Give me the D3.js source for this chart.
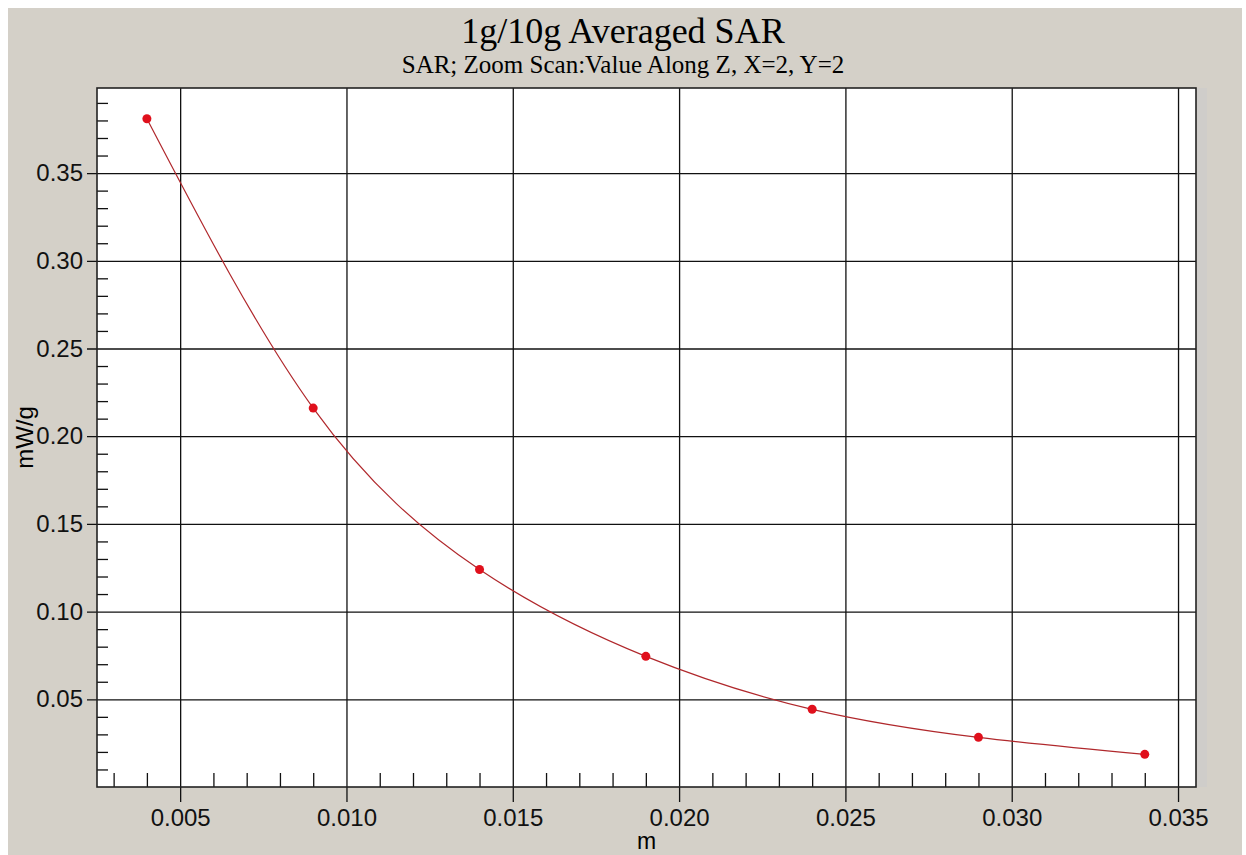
<!DOCTYPE html>
<html lang="en">
  <head>
    <meta charset="UTF-8" />
    <title>1g/10g Averaged SAR</title>
    <style>
      html, body { margin: 0; padding: 0; background: #ffffff; }
      svg { display: block; }
    </style>
  </head>
  <body>
    <div id="wrapper"></div>
    <script src="https://cdn.jsdelivr.net/npm/d3@7"></script>
    <script>
      // data
      const depth = [0.004, 0.009, 0.014, 0.019, 0.024, 0.029, 0.034];
      const sar = [0.381, 0.216, 0.124, 0.0745, 0.0443, 0.0283, 0.0186];
      const xMajor = [0.005, 0.010, 0.015, 0.020, 0.025, 0.030, 0.035];
      const yMajor = [0.05, 0.10, 0.15, 0.20, 0.25, 0.30, 0.35];
      const titleText = "1g/10g Averaged SAR";
      const subtitleText = "SAR; Zoom Scan:Value Along Z, X=2, Y=2";
      const xLabel = "m";
      const yLabel = "mW/g";

      const W = 1246, H = 855;
      const margin = {top: 88, right: 50, bottom: 68, left: 97};
      const width = W - margin.left - margin.right,
            height = H - margin.top - margin.bottom;

      const svg = d3.select("#wrapper").append("svg")
          .attr("width", W)
          .attr("height", H);

      // gray panel with a thin white edge
      svg.append("rect")
          .attr("x", 8).attr("y", 8)
          .attr("width", W - 12).attr("height", H - 8)
          .attr("fill", "#d4d0c8");

      // titles are centred on the whole panel
      svg.append("text")
          .attr("x", 623)
          .attr("y", 43)
          .attr("text-anchor", "middle")
          .style("font-family", "'Liberation Serif', 'Times New Roman', serif")
          .style("font-size", "36px")
          .text(titleText);

      svg.append("text")
          .attr("x", 623)
          .attr("y", 73)
          .attr("text-anchor", "middle")
          .style("font-family", "'Liberation Serif', 'Times New Roman', serif")
          .style("font-size", "25px")
          .text(subtitleText);

      const g = svg.append("g")
          .attr("transform", "translate(" + margin.left + "," + margin.top + ")");

      const x = d3.scaleLinear().domain([0.0025, 0.03554]).range([0, width]);
      const y = d3.scaleLinear().domain([0, 0.3985]).range([height, 0]);

      g.append("rect")
          .attr("width", width).attr("height", height)
          .attr("fill", "#ffffff");

      // minor ticks (every 0.001 on x, 0.01 on y)
      const xMinor = d3.range(3, 36).map(d => d / 1000).filter(d => d % 0.005 > 1e-9 && 0.005 - d % 0.005 > 1e-9);
      const yMinor = d3.range(1, 40).map(d => d / 100).filter(d => d % 0.05 > 1e-9 && 0.05 - d % 0.05 > 1e-9);

      g.append("g")
          .attr("transform", "translate(0," + height + ")")
          .call(d3.axisTop(x).tickValues(xMinor).tickSize(14).tickFormat(""))
          .call(a => a.select(".domain").remove())
          .selectAll("line").attr("stroke", "#111").attr("stroke-width", 1.3);

      g.append("g")
          .call(d3.axisRight(y).tickValues(yMinor).tickSize(11).tickFormat(""))
          .call(a => a.select(".domain").remove())
          .selectAll("line").attr("stroke", "#111").attr("stroke-width", 1.3);

      // major ticks + grid
      const xAxis = g.append("g")
          .attr("transform", "translate(0," + height + ")")
          .call(d3.axisBottom(x).tickValues(xMajor).tickSize(15).tickPadding(7)
              .tickFormat(d3.format(".3f")));
      xAxis.select(".domain").remove();
      xAxis.selectAll("line").attr("y1", -height).attr("stroke", "#111").attr("stroke-width", 1.3);
      xAxis.selectAll("text")
          .attr("fill", "#111")
          .style("font-family", "'Liberation Sans', Arial, sans-serif")
          .style("font-size", "24px");

      const yAxis = g.append("g")
          .call(d3.axisLeft(y).tickValues(yMajor).tickSize(10).tickPadding(4)
              .tickFormat(d3.format(".2f")));
      yAxis.select(".domain").remove();
      yAxis.selectAll("line").attr("x1", width).attr("stroke", "#111").attr("stroke-width", 1.3);
      yAxis.selectAll("text")
          .attr("fill", "#111")
          .style("font-family", "'Liberation Sans', Arial, sans-serif")
          .style("font-size", "24px");

      g.append("rect")
          .attr("width", width).attr("height", height)
          .attr("fill", "none")
          .attr("stroke", "#222")
          .attr("stroke-width", 1.6);

      // light strip on the right of the frame
      g.append("rect")
          .attr("x", width + 1).attr("y", 0)
          .attr("width", 10).attr("height", height)
          .attr("fill", "#cfcdca");

      // axis titles
      svg.append("text")
          .attr("x", margin.left + width / 2)
          .attr("y", 849)
          .attr("text-anchor", "middle")
          .style("font-family", "'Liberation Sans', Arial, sans-serif")
          .style("font-size", "23px")
          .text(xLabel);

      svg.append("text")
          .attr("transform", "translate(33," + (margin.top + height / 2) + ") rotate(-90)")
          .attr("text-anchor", "middle")
          .style("font-family", "'Liberation Sans', Arial, sans-serif")
          .style("font-size", "24px")
          .text(yLabel);

      // curve and points
      const pts = depth.map((d, i) => [d, sar[i]]);
      const line = d3.line()
          .x(d => x(d[0]))
          .y(d => y(d[1]))
          .curve(d3.curveNatural);

      g.append("path")
          .datum(pts)
          .attr("d", line)
          .attr("fill", "none")
          .attr("stroke", "#b0282c")
          .attr("stroke-width", 1.2);

      g.selectAll("circle")
          .data(pts)
          .enter()
          .append("circle")
          .attr("cx", d => x(d[0]))
          .attr("cy", d => y(d[1]))
          .attr("r", 4.5)
          .attr("fill", "#e0101c");
    </script>
  </body>
</html>
